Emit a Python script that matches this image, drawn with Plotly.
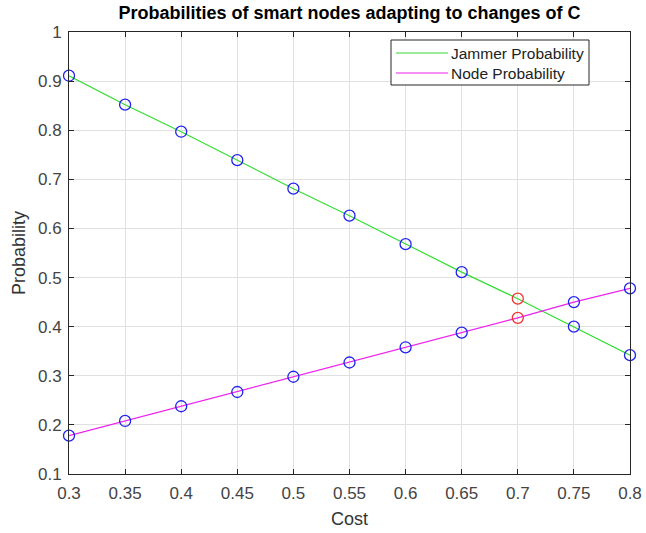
import plotly.graph_objects as go

cost = [0.3, 0.35, 0.4, 0.45, 0.5, 0.55, 0.6, 0.65, 0.7, 0.75, 0.8]
jammer = [0.911, 0.852, 0.797, 0.739, 0.681, 0.626, 0.568, 0.511, 0.457, 0.400, 0.342]
node = [0.178, 0.208, 0.238, 0.267, 0.298, 0.327, 0.358, 0.388, 0.418, 0.450, 0.478]
red_idx = [8]
series_names = ["Jammer Probability", "Node Probability"]
series_colors = ["#33dd33", "#ee22ee"]

x_ticks = [0.3, 0.35, 0.4, 0.45, 0.5, 0.55, 0.6, 0.65, 0.7, 0.75, 0.8]
x_labels = ["0.3", "0.35", "0.4", "0.45", "0.5", "0.55", "0.6", "0.65", "0.7", "0.75", "0.8"]
y_ticks = [0.1, 0.2, 0.3, 0.4, 0.5, 0.6, 0.7, 0.8, 0.9, 1.0]
y_labels = ["0.1", "0.2", "0.3", "0.4", "0.5", "0.6", "0.7", "0.8", "0.9", "1"]

FONT = "Liberation Sans, Arial, Helvetica"
L, R, T, B = 69, 630, 32, 474
W, H = 646, 533
PW, PH = R - L, B - T


def px_x(p):
    return (p - L) / PW


def px_y(p):
    return 1 - (p - T) / PH


fig = go.Figure()
for vals, name, col in zip((jammer, node), series_names, series_colors):
    fig.add_trace(go.Scatter(x=cost, y=vals, mode="lines", name=name, showlegend=False,
                             line=dict(color=col, width=1.2)))

for series in (jammer, node):
    bx = [c for i, c in enumerate(cost) if i not in red_idx]
    by = [v for i, v in enumerate(series) if i not in red_idx]
    rx = [cost[i] for i in red_idx]
    ry = [series[i] for i in red_idx]
    fig.add_trace(go.Scatter(x=bx, y=by, mode="markers", showlegend=False, cliponaxis=False,
                             marker=dict(symbol="circle-open", size=11, color="#2222ee",
                                         line=dict(width=1.3))))
    fig.add_trace(go.Scatter(x=rx, y=ry, mode="markers", showlegend=False, cliponaxis=False,
                             marker=dict(symbol="circle-open", size=11, color="#ee3333",
                                         line=dict(width=1.3))))

axis_common = dict(showgrid=True, gridcolor="#e0e0e0", gridwidth=1, zeroline=False,
                   showline=True, linecolor="#262626", linewidth=1, mirror="ticks",
                   ticks="inside", ticklen=5, tickcolor="#262626", automargin=False,
                   tickfont=dict(family=FONT, size=17, color="#444444"))

# custom legend (MATLAB style box)
shapes = [dict(type="rect", xref="paper", yref="paper",
               x0=px_x(391), x1=px_x(589), y0=px_y(85), y1=px_y(40),
               line=dict(color="#262626", width=1), fillcolor="white", layer="above")]
annotations = []
for k, (name, col) in enumerate(zip(series_names, series_colors)):
    yc = 53 + 20 * k
    shapes.append(dict(type="line", xref="paper", yref="paper",
                       x0=px_x(396), x1=px_x(448), y0=px_y(yc), y1=px_y(yc),
                       line=dict(color=col, width=1.2), layer="above"))
    annotations.append(dict(text=name, xref="paper", yref="paper", x=px_x(449), y=px_y(yc),
                            xanchor="left", yanchor="middle", showarrow=False,
                            font=dict(family=FONT, size=15.5, color="#222222")))

fig.update_layout(
    width=W, height=H,
    margin=dict(l=L, r=W - R, t=T, b=H - B, autoexpand=False),
    paper_bgcolor="white", plot_bgcolor="white",
    title=dict(text="<b>Probabilities of smart nodes adapting to changes of C</b>",
               x=(L + R) / 2 / W, xanchor="center", y=1 - 13 / H, yanchor="middle",
               xref="container", yref="container",
               font=dict(family=FONT, size=18, color="black")),
    xaxis=dict(range=[0.3, 0.8], tickvals=x_ticks, ticktext=x_labels, ticklabelstandoff=4,
               title=dict(text="Cost", standoff=9,
                          font=dict(family=FONT, size=18, color="#333333")),
               **axis_common),
    yaxis=dict(range=[0.1, 1.0], tickvals=y_ticks, ticktext=y_labels, ticklabelstandoff=3,
               title=dict(text="Probability", standoff=7,
                          font=dict(family=FONT, size=18, color="#333333")),
               **axis_common),
    shapes=shapes,
    annotations=annotations,
    showlegend=False,
)

fig.write_html("out.html")
